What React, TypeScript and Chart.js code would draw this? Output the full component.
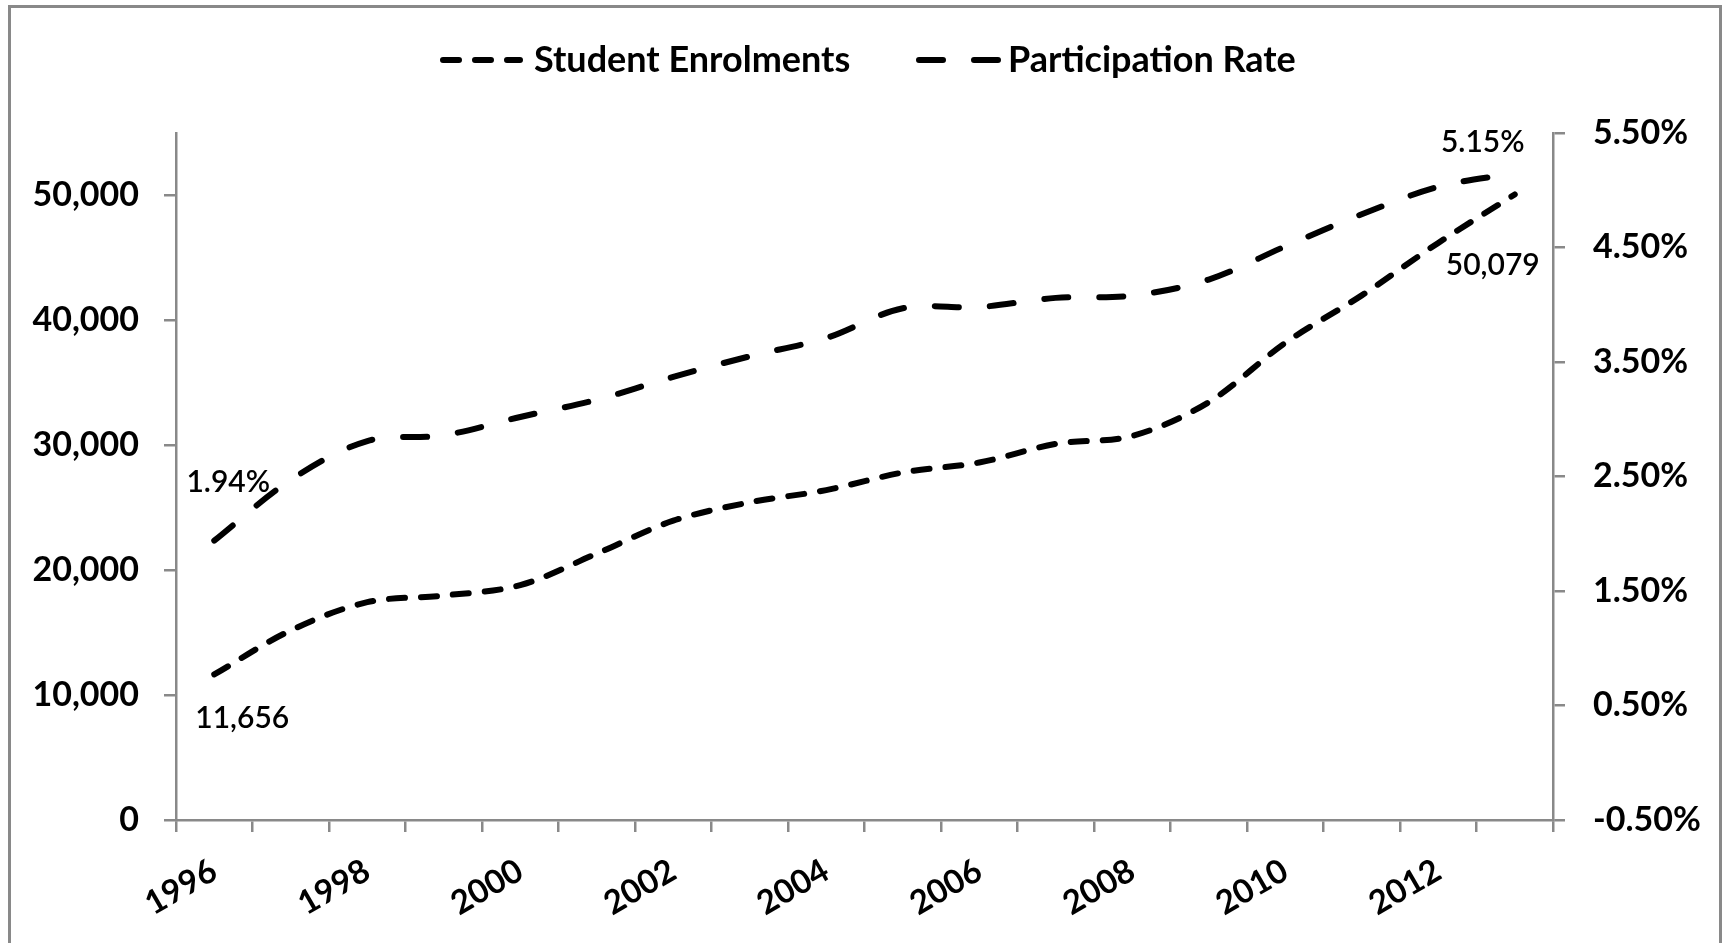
import React, { useEffect, useRef } from "react";
import { Chart, registerables } from "chart.js";

Chart.register(...registerables);

// ---- data ----
const years = [
  "1996", "1997", "1998", "1999", "2000", "2001", "2002", "2003", "2004",
  "2005", "2006", "2007", "2008", "2009", "2010", "2011", "2012", "2013",
];
const enrolments = [
  11656, 15180, 17440, 17970, 18800, 21330, 23960, 25430, 26410,
  27820, 28620, 30110, 30750, 33450, 38200, 42000, 46200, 50079,
];
const participation = [
  1.94, 2.47, 2.81, 2.86, 3.02, 3.17, 3.37, 3.55, 3.71,
  3.97, 3.98, 4.06, 4.08, 4.22, 4.51, 4.79, 5.03, 5.15,
];
const leftTicks = [0, 10000, 20000, 30000, 40000, 50000];
const rightTicks = [-0.5, 0.5, 1.5, 2.5, 3.5, 4.5, 5.5];
const xLabelYears = ["1996", "1998", "2000", "2002", "2004", "2006", "2008", "2010", "2012"];
const seriesNames = ["Student Enrolments", "Participation Rate"];

// ---- styles ----
const FONT = "Lato, 'DejaVu Sans', sans-serif";
const AXIS_GRAY = "#898989";
const W = 1725;
const H = 943;
const shortDash = [16, 16];
const longDash = [24, 31];

const fmtInt = (v: number) => v.toLocaleString("en-US");
const fmtPct = (v: number) => v.toFixed(2) + "%";

const dataLabelSpecs = [
  { ds: 1, idx: 0, dx: 14, dy: -58 },
  { ds: 0, idx: 0, dx: 28, dy: 44 },
  { ds: 1, idx: years.length - 1, dx: -32, dy: -31 },
  { ds: 0, idx: years.length - 1, dx: -22, dy: 71 },
];

const frameAndLegend = {
  id: "frameAndLegend",
  beforeDraw(chart: any) {
    const ctx = chart.ctx;
    ctx.save();
    ctx.fillStyle = "#ffffff";
    ctx.fillRect(0, 0, chart.width, chart.height);
    ctx.strokeStyle = AXIS_GRAY;
    ctx.lineWidth = 3;
    ctx.strokeRect(9.5, 6.5, 1711, 1000);
    ctx.restore();
  },
  afterDraw(chart: any) {
    const ctx = chart.ctx;
    const items = [
      { name: seriesNames[0], dash: shortDash, x0: 443, x1: 520, tx: 534 },
      { name: seriesNames[1], dash: longDash, x0: 919, x1: 998, tx: 1008 },
    ];
    ctx.save();
    items.forEach((it) => {
      ctx.strokeStyle = "#000";
      ctx.lineWidth = 6;
      ctx.lineCap = "round";
      ctx.setLineDash(it.dash);
      ctx.beginPath();
      ctx.moveTo(it.x0, 60);
      ctx.lineTo(it.x1, 60);
      ctx.stroke();
      ctx.setLineDash([]);
      ctx.fillStyle = "#000";
      ctx.font = `bold 36px ${FONT}`;
      ctx.textAlign = "left";
      ctx.textBaseline = "alphabetic";
      ctx.fillText(it.name, it.tx, 72);
    });
    ctx.restore();
  },
};

const pointLabels = {
  id: "pointLabels",
  afterDatasetsDraw(chart: any) {
    const ctx = chart.ctx;
    ctx.save();
    ctx.fillStyle = "#000";
    ctx.font = `600 30px ${FONT}`;
    ctx.textAlign = "center";
    ctx.textBaseline = "middle";
    dataLabelSpecs.forEach((s) => {
      const el = chart.getDatasetMeta(s.ds).data[s.idx];
      const v = chart.data.datasets[s.ds].data[s.idx] as number;
      const txt = s.ds === 0 ? fmtInt(v) : fmtPct(v);
      ctx.fillText(txt, el.x + s.dx, el.y + s.dy);
    });
    ctx.restore();
  },
};

export default function App() {
  const ref = useRef<HTMLCanvasElement | null>(null);

  useEffect(() => {
    if (!ref.current) return;
    const chart = new Chart(ref.current, {
      type: "line",
      data: {
        labels: years,
        datasets: [
          {
            label: seriesNames[0],
            data: enrolments,
            yAxisID: "y",
            borderColor: "#000",
            borderWidth: 6,
            borderDash: shortDash,
            borderCapStyle: "round",
            pointRadius: 0,
            tension: 0.33,
            fill: false,
          },
          {
            label: seriesNames[1],
            data: participation,
            yAxisID: "y1",
            borderColor: "#000",
            borderWidth: 6,
            borderDash: longDash,
            borderCapStyle: "round",
            pointRadius: 0,
            tension: 0.33,
            fill: false,
          },
        ],
      },
      options: {
        responsive: false,
        animation: false,
        devicePixelRatio: 1,
        layout: { padding: { top: 133, left: 0, right: 0, bottom: 0 } },
        plugins: {
          legend: { display: false },
          tooltip: { enabled: false },
        },
        scales: {
          x: {
            type: "category",
            offset: true,
            grid: {
              offset: true,
              drawOnChartArea: false,
              drawTicks: true,
              tickLength: 12,
              color: AXIS_GRAY,
              lineWidth: 2.5,
            },
            border: { display: true, color: AXIS_GRAY, width: 2.5 },
            ticks: {
              autoSkip: false,
              minRotation: 30,
              maxRotation: 30,
              padding: 19,
              color: "#000",
              font: { family: FONT, size: 33, weight: "bold" },
              callback: (_v: any, i: number) =>
                xLabelYears.includes(years[i]) ? years[i] : "",
            },
            afterFit: (s: any) => {
              s.height = 123;
            },
          },
          y: {
            type: "linear",
            position: "left",
            min: 0,
            max: 55000,
            afterBuildTicks: (s: any) => {
              s.ticks = leftTicks.map((v) => ({ value: v }));
            },
            grid: {
              drawOnChartArea: false,
              drawTicks: true,
              tickLength: 12,
              color: AXIS_GRAY,
              lineWidth: 2.5,
            },
            border: { display: true, color: AXIS_GRAY, width: 2.5 },
            ticks: {
              padding: 25,
              color: "#000",
              font: { family: FONT, size: 34, weight: "bold" },
              callback: (v: any) => fmtInt(Number(v)),
            },
            afterFit: (s: any) => {
              s.width = 176;
            },
          },
          y1: {
            type: "linear",
            position: "right",
            min: -0.5,
            max: 5.5,
            afterBuildTicks: (s: any) => {
              s.ticks = rightTicks.map((v) => ({ value: v }));
            },
            grid: {
              drawOnChartArea: false,
              drawTicks: true,
              tickLength: 12,
              color: AXIS_GRAY,
              lineWidth: 2.5,
            },
            border: { display: true, color: AXIS_GRAY, width: 2.5 },
            ticks: {
              padding: 28,
              color: "#000",
              font: { family: FONT, size: 34, weight: "bold" },
              callback: (v: any) => fmtPct(Number(v)),
            },
            afterFit: (s: any) => {
              s.width = W - 1553;
            },
          },
        },
      },
      plugins: [frameAndLegend, pointLabels],
    } as any);
    return () => chart.destroy();
  }, []);

  return (
    <div style={{ position: "fixed", left: 0, top: 0, width: W, height: H, background: "#fff" }}>
      <canvas ref={ref} width={W} height={H} style={{ display: "block", width: W, height: H }} />
    </div>
  );
}
